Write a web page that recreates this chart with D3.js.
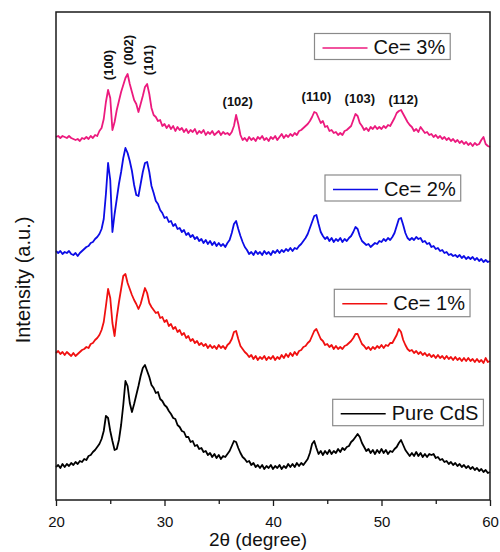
<!DOCTYPE html>
<html><head><meta charset="utf-8">
<script src="https://cdn.jsdelivr.net/npm/d3@7"></script>
<style>body{margin:0;background:#fff}svg{display:block}</style>
</head><body>
<svg id="c" width="500" height="552"></svg>
<script>
// 2θ grid: 20° to 60° in 0.2° steps (201 points)
const thetaStart = 20, thetaStep = 0.2;

// Intensities (a.u., curves already stacked)
const pureCdS = [33,35,32,36,33,36,34,37,35,38,
36,39,38,41,40,44,45,48,50,53,
56,61,69,84,82,69,59,50,51,60,
75,95,119,114,97,88,96,105,114,124,
132,135,129,123,115,112,107,108,101,99,
95,93,89,86,82,81,75,73,69,68,
63,63,58,59,54,55,51,52,48,49,
45,47,43,46,42,45,41,44,43,46,
49,54,59,58,52,47,43,41,38,39,
35,37,33,35,32,35,31,34,32,35,
31,34,32,35,31,34,32,36,33,36,
33,37,34,37,35,38,41,47,56,59,
52,46,49,45,49,46,50,46,49,47,
51,48,52,50,53,54,58,60,63,66,
63,57,53,49,51,47,50,46,50,47,
51,47,50,46,49,48,51,53,57,60,
55,50,47,44,47,44,48,44,47,43,
46,43,46,45,46,42,43,40,41,38,
39,36,38,35,37,34,36,33,35,32,
34,31,33,30,32,29,31,28,30,27,
28];
const ce1 = [147,149,146,148,145,148,146,144,147,144,
146,148,150,151,153,152,156,157,160,162,
165,170,178,194,211,202,177,164,183,198,
211,224,226,217,211,205,200,196,191,196,
204,212,207,197,193,190,187,188,182,183,
178,180,174,176,171,173,168,170,165,167,
162,164,159,161,157,159,155,157,154,156,
152,155,152,154,151,155,152,154,151,155,
157,161,168,169,161,154,151,148,146,143,
145,141,144,140,143,141,144,140,143,141,
144,140,143,141,145,142,146,143,147,144,
148,145,149,150,153,154,157,159,164,169,
171,166,161,159,155,156,153,155,151,154,
151,153,151,154,155,157,159,162,166,166,
161,156,154,151,153,150,153,151,154,152,
155,152,155,154,157,157,161,165,171,168,
160,155,151,149,150,147,149,146,148,145,
147,144,146,143,145,142,145,142,144,141,
144,141,143,140,143,140,142,139,142,139,
142,139,141,138,141,138,140,137,142,138,
139];
const ce2 = [249,247,249,246,248,247,249,246,245,247,
244,247,249,251,253,254,257,258,261,263,
266,271,281,306,337,320,268,286,301,316,
328,342,352,347,339,329,315,305,304,316,
328,337,338,328,314,307,299,296,290,287,
282,283,278,279,274,276,271,272,268,270,
265,267,263,265,261,263,259,261,257,260,
256,259,255,258,254,257,254,256,253,257,
260,267,276,279,271,264,258,253,250,246,
248,245,249,246,248,245,249,246,248,245,
249,247,250,247,250,248,251,249,252,249,
252,251,254,256,259,262,266,272,278,284,
285,276,268,264,261,263,259,262,258,261,
259,262,258,261,259,262,264,268,273,271,
264,259,257,255,256,253,255,257,256,259,
258,261,259,262,260,263,267,274,281,282,
275,267,262,260,262,260,263,261,262,258,
259,256,257,253,254,251,252,249,250,247,
248,245,246,244,245,243,245,242,244,241,
243,241,243,240,242,239,241,238,240,238,
239];
const ce3 = [363,364,362,364,363,362,364,362,361,360,
361,359,362,361,363,361,364,362,365,364,
369,372,381,398,410,402,370,378,390,399,
408,415,422,426,416,408,400,396,388,396,
404,413,416,406,392,385,383,379,380,374,
376,372,375,371,374,369,373,370,372,368,
371,367,370,368,371,366,369,367,370,365,
368,366,369,365,367,369,365,368,366,367,
365,368,374,385,376,365,360,362,359,363,
360,362,359,363,361,364,360,362,359,363,
361,364,360,363,366,362,365,363,366,364,
367,365,369,370,372,374,376,379,383,388,
387,382,377,379,373,374,369,370,367,368,
365,367,365,369,370,372,374,380,386,384,
377,374,370,372,369,373,371,374,371,373,
371,374,372,375,374,378,382,387,389,390,
386,382,378,375,373,369,371,368,373,370,
367,368,365,366,363,365,362,364,361,363,
360,362,359,361,358,360,357,359,356,358,
355,357,354,357,355,356,360,363,356,354,
353];

const seriesNames = ["Pure CdS", "Ce= 1%", "Ce= 2%", "Ce= 3%"];
const seriesData = [pureCdS, ce1, ce2, ce3];
const seriesColors = ["#000000", "#f01010", "#0c0ce6", "#ec1a7e"];

const xTicksMajor = [20, 30, 40, 50, 60];
const xTicksMinor = [25, 35, 45, 55];

const peakLabels = ["(100)", "(002)", "(101)", "(102)", "(110)", "(103)", "(112)"];
const peakTheta  = [24.85, 26.7, 28.55, 36.75, 44.0, 48.0, 52.0];
const peakLevel  = [435, 450, 440, 394.5, 399.4, 396.7, 396];
const peakRotated = [true, true, true, false, false, false, false];

// ---- layout ----
const svg = d3.select("#c");
const W = 500, H = 552;
const m = {left: 56, right: 490, top: 12, bottom: 500};
const x = d3.scaleLinear().domain([20, 60]).range([m.left, m.right]);
const y = d3.scaleLinear().domain([0, 488]).range([m.bottom, m.top]);
const font = "'Liberation Sans', Arial, sans-serif";

svg.append("rect").attr("width", W).attr("height", H).attr("fill", "#fff");

const line = d3.line()
  .x((d, i) => x(thetaStart + i * thetaStep))
  .y(d => y(d));

seriesData.forEach((s, k) => {
  svg.append("path").datum(s)
    .attr("d", line)
    .attr("fill", "none")
    .attr("stroke", seriesColors[k])
    .attr("stroke-width", 1.8)
    .attr("stroke-linejoin", "round");
});

// frame
svg.append("rect")
  .attr("x", m.left).attr("y", m.top)
  .attr("width", m.right - m.left).attr("height", m.bottom - m.top)
  .attr("fill", "none").attr("stroke", "#1a1a1a").attr("stroke-width", 1.5);

// x axis
const gMaj = svg.append("g").attr("transform", `translate(0,${m.bottom})`)
  .call(d3.axisBottom(x).tickValues(xTicksMajor).tickSize(6).tickPadding(10).tickFormat(d3.format("d")));
const gMin = svg.append("g").attr("transform", `translate(0,${m.bottom})`)
  .call(d3.axisBottom(x).tickValues(xTicksMinor).tickSize(4).tickFormat(""));
[gMaj, gMin].forEach(g => {
  g.select(".domain").remove();
  g.selectAll(".tick line").attr("stroke", "#1a1a1a").attr("stroke-width", 1.3);
});
gMaj.selectAll(".tick text").attr("font-family", font).attr("font-size", 15).attr("fill", "#111");

// axis titles
svg.append("text").attr("x", 258).attr("y", 546)
  .attr("text-anchor", "middle").attr("font-family", font).attr("font-size", 19).attr("fill", "#111")
  .text("2θ (degree)");
svg.append("text").attr("transform", "translate(22.5,280) rotate(-90)")
  .attr("text-anchor", "middle").attr("dominant-baseline", "central")
  .attr("font-family", font).attr("font-size", 20).attr("fill", "#111")
  .text("Intensity (a.u.)");

// peak labels
peakLabels.forEach((lab, i) => {
  const px = x(peakTheta[i]), py = y(peakLevel[i]);
  const t = svg.append("text").attr("font-family", font).attr("font-size", 13)
    .attr("font-weight", "bold").attr("fill", "#111").attr("text-anchor", "middle").text(lab);
  if (peakRotated[i]) {
    t.attr("transform", `translate(${px},${py}) rotate(-90)`).attr("dominant-baseline", "central");
  } else {
    t.attr("x", px).attr("y", py);
  }
});

// legends (one box per curve)
const legendBoxes = [
  {x: 332.7, y: 399.3, h: 26.4},
  {x: 334.3, y: 289.3, h: 27.4},
  {x: 325.0, y: 175.0, h: 26.0},
  {x: 314.5, y: 33.5, h: 26.0}
];
legendBoxes.forEach((b, k) => {
  const g = svg.append("g");
  const rect = g.append("rect").attr("x", b.x).attr("y", b.y).attr("height", b.h)
    .attr("fill", "#fff").attr("stroke", "#8a8a8a").attr("stroke-width", 1.2);
  g.append("line").attr("x1", b.x + 8).attr("x2", b.x + 53)
    .attr("y1", b.y + 14.5).attr("y2", b.y + 14.5)
    .attr("stroke", seriesColors[k]).attr("stroke-width", 1.5);
  const t = g.append("text").attr("x", b.x + 59).attr("y", b.y + 20.5)
    .attr("font-family", font).attr("font-size", 20).attr("fill", "#111")
    .text(seriesNames[k]);
  const len = t.node().getComputedTextLength();
  rect.attr("width", 59 + len + 5);
});
</script>
</body></html>
